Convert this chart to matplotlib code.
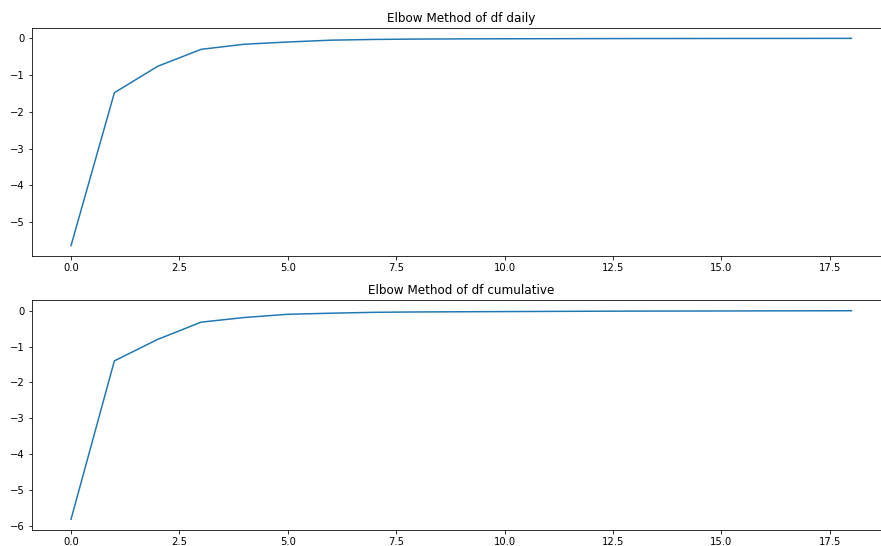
import numpy as np
import matplotlib
matplotlib.use("Agg")
import matplotlib.pyplot as plt

# number of clusters (index) and elbow scores
k_values = list(range(19))
daily_scores = [-5.64, -1.48, -0.76, -0.30, -0.16, -0.10, -0.05, -0.03, -0.02,
                -0.015, -0.012, -0.01, -0.008, -0.006, -0.005, -0.004, -0.003,
                -0.002, -0.001]
cumulative_scores = [-5.82, -1.40, -0.80, -0.32, -0.19, -0.10, -0.07, -0.045,
                     -0.035, -0.03, -0.025, -0.02, -0.015, -0.012, -0.01,
                     -0.008, -0.005, -0.003, -0.001]

W, H = 881, 546
fig = plt.figure(figsize=(W / 72, H / 72), dpi=72)

# axes run a little past the right edge, as in the original screenshot
ax1 = fig.add_axes([32 / W, (H - 256) / H, 858.5 / W, 228 / H])
ax2 = fig.add_axes([32 / W, (H - 529.7) / H, 858.5 / W, 229.4 / H])

ax1.plot(k_values, daily_scores)
ax1.set_title("Elbow Method of df daily", fontsize=12)

ax2.plot(k_values, cumulative_scores)
ax2.set_title("Elbow Method of df cumulative", fontsize=12)

# the right border falls outside the cropped screenshot
for ax in (ax1, ax2):
    ax.spines["right"].set_visible(False)

fig.savefig("out.png", dpi=72)
